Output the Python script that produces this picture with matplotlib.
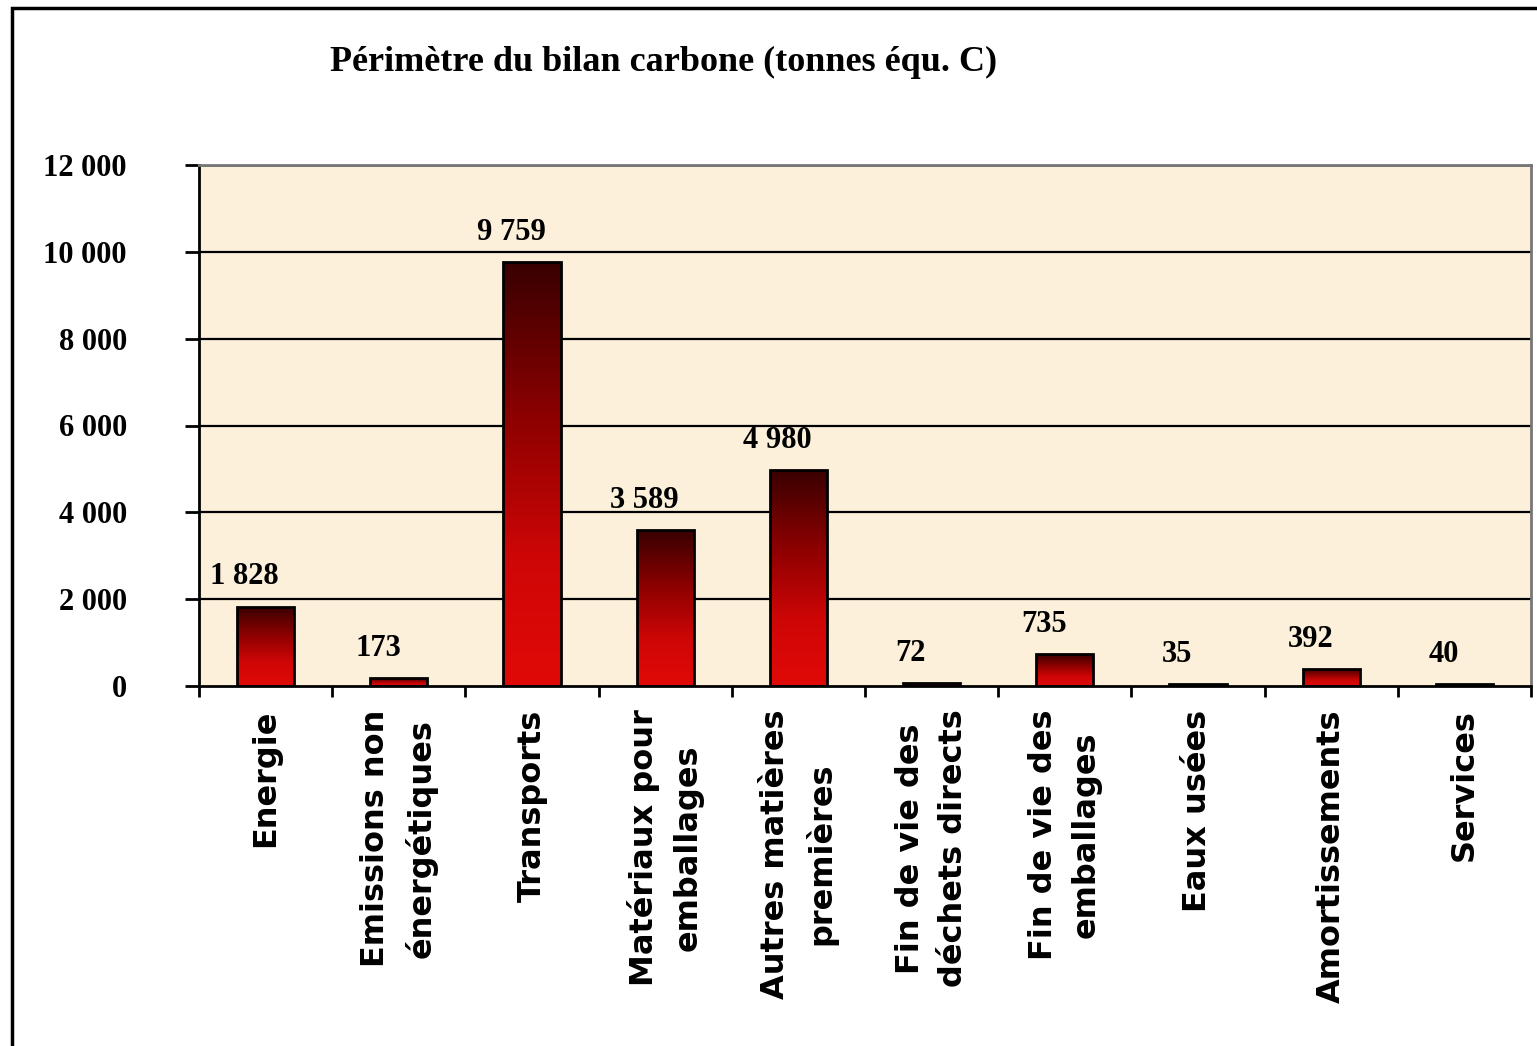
""" Bar chart of the carbon footprint perimeter
"""
import numpy as np
import matplotlib
matplotlib.use('Agg')
from matplotlib import pyplot as plt
from matplotlib.colors import LinearSegmentedColormap
from matplotlib.patches import Rectangle

# Data
categories = ['Energie', 'Emissions non\nénergétiques', 'Transports',
              'Matériaux pour\nemballages', 'Autres matières\npremières',
              'Fin de vie des\ndéchets directs', 'Fin de vie des\nemballages',
              'Eaux usées', 'Amortissements', 'Services']
values = [1828, 173, 9759, 3589, 4980, 72, 735, 35, 392, 40]
yticks = [0, 2000, 4000, 6000, 8000, 10000, 12000]
title = 'Périmètre du bilan carbone (tonnes équ. C)'

def fmt(v):
    return '{:,}'.format(v).replace(',', ' ')

serif = 'Liberation Serif'
sans = 'DejaVu Sans'

fig = plt.figure(figsize=(15.37, 10.46), dpi=100)
fig.patch.set_facecolor('white')

# Outer frame
fig.patches.append(Rectangle((12/1537., -0.05), 1.2, 1 - 8/1046. + 0.05,
                             transform=fig.transFigure, fill=False,
                             edgecolor='black', lw=2.5))

ax = fig.add_axes([199/1537., 1 - 686/1046., (1531-199)/1537., (686-165)/1046.])
ax.set_facecolor('#fcf0da')

# Grid
for yv in yticks[1:-1]:
    ax.axhline(yv, color='black', lw=1.6, zorder=1)
ax.axhline(yticks[-1], color='#777777', lw=2.0, zorder=1)

cmap = LinearSegmentedColormap.from_list('bar', [(0.0, '#e00a08'), (0.3, '#cf0606'),
                                                 (0.65, '#8a0000'), (1.0, '#380000')])
grad = np.linspace(0, 1, 256).reshape(-1, 1)
width = 0.43
x = np.arange(len(values))
bars = ax.bar(x, values, width=width, facecolor='none', edgecolor='black', lw=2, zorder=3)
for b, v in zip(bars, values):
    im = ax.imshow(grad, cmap=cmap, origin='lower', aspect='auto', zorder=2,
                   extent=[b.get_x(), b.get_x() + b.get_width(), 0, v])
    im.set_clip_path(b)
    ax.annotate(fmt(v), (b.get_x() + b.get_width()/2., v), xytext=(-15, 11),
                textcoords='offset points', ha='center', va='bottom',
                fontsize=22, fontweight='bold', family=serif)

# Axes
ax.set_xlim(-0.5, len(values) - 0.5)
ax.set_ylim(0, 12000)
ax.set_yticks(yticks)
ax.set_yticklabels([fmt(v) for v in yticks], fontsize=22, fontweight='bold', family=serif)
ax.tick_params(axis='y', length=10, width=2, pad=42)
ax.set_xticks(np.arange(len(values) + 1) - 0.5)
ax.set_xticklabels([])
ax.tick_params(axis='x', length=8, width=2, direction='out')
for ii, cat in enumerate(categories):
    ax.text(ii, -0.045, cat, transform=ax.get_xaxis_transform(), rotation=90,
            ha='center', va='top', multialignment='center', linespacing=1.5,
            fontsize=23, fontweight='bold', family=sans)

for side in ['left', 'bottom']:
    ax.spines[side].set_linewidth(2)
    ax.spines[side].set_color('black')
for side in ['top', 'right']:
    ax.spines[side].set_linewidth(2)
    ax.spines[side].set_color('#777777')

fig.text(664/1537., 1 - 62/1046., title, ha='center', va='center',
         fontsize=26, fontweight='bold', family=serif)

fig.savefig('out.png', dpi=100)
plt.close()
